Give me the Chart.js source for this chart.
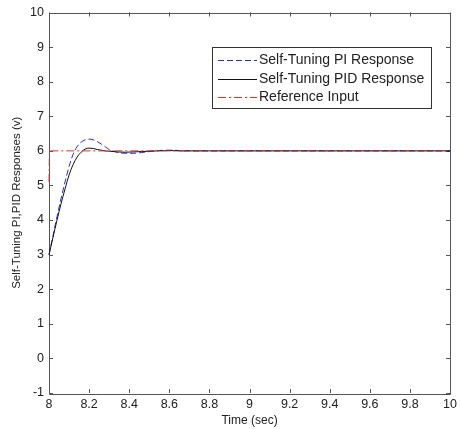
<!DOCTYPE html>
<html>
<head>
<meta charset="utf-8">
<script src="https://cdn.jsdelivr.net/npm/chart.js@4/dist/chart.umd.min.js"></script>
<style>
  html, body { margin: 0; padding: 0; background: #fff; }
  canvas { display: block; }
</style>
</head>
<body>
<canvas id="responseChart" width="461" height="429"></canvas>
<script>
// time samples (sec)
const timeSec = [8, 8.02, 8.04, 8.06, 8.08, 8.10, 8.12, 8.14, 8.16, 8.18, 8.20, 8.22, 8.24, 8.26, 8.28, 8.30,
                 8.34, 8.38, 8.42, 8.46, 8.50, 8.55, 8.60, 8.65, 8.70, 8.80, 9.0, 10];
const piResponse = [3.0, 3.55, 4.1, 4.62, 5.1, 5.55, 5.9, 6.12, 6.25, 6.32, 6.34, 6.32, 6.27, 6.2, 6.12, 6.04,
                    5.96, 5.93, 5.93, 5.95, 5.98, 6.01, 6.02, 6.01, 6.0, 6.0, 6.0, 6.0];
const pidResponse = [3.0, 3.5, 4.0, 4.47, 4.9, 5.3, 5.6, 5.82, 5.96, 6.05, 6.08, 6.07, 6.04, 6.02, 6.0, 5.99,
                     5.97, 5.96, 5.97, 5.98, 5.99, 6.0, 6.01, 6.0, 6.0, 6.0, 6.0, 6.0];
const refTime = [8, 8.002, 10];
const refInput = [5.1, 6, 6];

const seriesNames = ['Self-Tuning PI Response', 'Self-Tuning PID Response', 'Reference Input'];
const xTicks = [8, 8.2, 8.4, 8.6, 8.8, 9, 9.2, 9.4, 9.6, 9.8, 10];
const yTicks = [-1, 0, 1, 2, 3, 4, 5, 6, 7, 8, 9, 10];

const AXIS_COLOR = '#555';
const TEXT_COLOR = '#222';
const REF_COLOR = '#e03030';

function toPoints(xs, ys) {
    return xs.map((x, i) => ({ x: x, y: ys[i] }));
}

// matlab style frame: full box + inward tick marks on all sides (drawn under the lines)
const framePlugin = {
    id: 'frame',
    beforeDatasetsDraw(chart) {
        const { ctx, chartArea: a, scales } = chart;
        ctx.save();
        ctx.strokeStyle = AXIS_COLOR;
        ctx.lineWidth = 1;
        ctx.beginPath();
        ctx.rect(Math.round(a.left) + 0.5, Math.round(a.top) + 0.5,
                 Math.round(a.right - a.left), Math.round(a.bottom - a.top));
        ctx.stroke();
        const len = 4;
        ctx.beginPath();
        xTicks.forEach(v => {
            const px = Math.round(scales.x.getPixelForValue(v)) + 0.5;
            ctx.moveTo(px, a.bottom); ctx.lineTo(px, a.bottom - len);
            ctx.moveTo(px, a.top); ctx.lineTo(px, a.top + len);
        });
        yTicks.forEach(v => {
            const py = Math.round(scales.y.getPixelForValue(v)) + 0.5;
            ctx.moveTo(a.left, py); ctx.lineTo(a.left + len, py);
            ctx.moveTo(a.right, py); ctx.lineTo(a.right - len, py);
        });
        ctx.stroke();
        ctx.restore();
    }
};

// boxed legend inside the axes, upper right
const boxLegendPlugin = {
    id: 'boxLegend',
    afterDraw(chart) {
        const { ctx } = chart;
        const box = { x: 212.5, y: 47.5, w: 219, h: 61 };
        ctx.save();
        ctx.fillStyle = '#fff';
        ctx.fillRect(box.x, box.y, box.w, box.h);
        ctx.strokeStyle = '#333';
        ctx.lineWidth = 1;
        ctx.strokeRect(box.x, box.y, box.w, box.h);
        ctx.font = '14px "Liberation Sans", Arial, sans-serif';
        ctx.textBaseline = 'middle';
        const rows = [60.5, 79.5, 97.5];
        chart.data.datasets.forEach((ds, i) => {
            ctx.beginPath();
            ctx.strokeStyle = ds.borderColor;
            ctx.setLineDash(ds.borderDash || []);
            ctx.moveTo(218, rows[i]);
            ctx.lineTo(257, rows[i]);
            ctx.stroke();
            ctx.setLineDash([]);
            ctx.fillStyle = TEXT_COLOR;
            ctx.fillText(ds.label, 259, rows[i]);
        });
        ctx.restore();
    }
};

function createChart() {
    const ctx = document.getElementById('responseChart').getContext('2d');
    return new Chart(ctx, {
        type: 'scatter',
        data: {
            datasets: [
                {
                    label: seriesNames[0],
                    data: toPoints(timeSec, piResponse),
                    borderColor: '#2a2ac8',
                    borderDash: [6, 3],
                    order: 2,
                },
                {
                    label: seriesNames[1],
                    data: toPoints(timeSec, pidResponse),
                    borderColor: '#111',
                    order: 1,
                },
                {
                    label: seriesNames[2],
                    data: toPoints(refTime, refInput),
                    borderColor: REF_COLOR,
                    borderDash: [8, 3, 2, 3],
                    cubicInterpolationMode: 'default',
                    tension: 0,
                    order: 0,
                },
            ].map(ds => Object.assign({
                showLine: true,
                borderWidth: 1,
                pointRadius: 0,
                fill: false,
                clip: 3,
                cubicInterpolationMode: 'monotone',
            }, ds)),
        },
        options: {
            responsive: false,
            animation: false,
            layout: { padding: { top: 9, right: 10, left: 0, bottom: 0 } },
            plugins: {
                legend: { display: false },
                tooltip: { enabled: false },
            },
            scales: {
                x: {
                    type: 'linear',
                    min: 8,
                    max: 10,
                    afterFit: s => { s.height = 36; },
                    afterBuildTicks: s => { s.ticks = xTicks.map(v => ({ value: v })); },
                    grid: { drawOnChartArea: false, drawTicks: false },
                    border: { display: false },
                    ticks: {
                        color: TEXT_COLOR,
                        padding: 4,
                        maxRotation: 0,
                        font: { family: '"Liberation Sans", Arial, sans-serif', size: 12.5 },
                        callback: v => String(Number(v.toFixed(1))),
                    },
                    title: {
                        display: true,
                        text: 'Time (sec)',
                        color: TEXT_COLOR,
                        padding: { top: 0, bottom: 1 },
                        font: { family: '"Liberation Sans", Arial, sans-serif', size: 12 },
                    },
                },
                y: {
                    min: -1,
                    max: 10,
                    afterFit: s => { s.width = 49; },
                    afterBuildTicks: s => { s.ticks = yTicks.map(v => ({ value: v })); },
                    grid: { drawOnChartArea: false, drawTicks: false },
                    border: { display: false },
                    ticks: {
                        color: TEXT_COLOR,
                        padding: 5,
                        font: { family: '"Liberation Sans", Arial, sans-serif', size: 12.5 },
                    },
                    title: {
                        display: true,
                        text: 'Self-Tuning PI,PID Responses (v)',
                        color: TEXT_COLOR,
                        padding: { top: 10, bottom: 0 },
                        font: { family: '"Liberation Sans", Arial, sans-serif', size: 11.5 },
                    },
                },
            },
        },
        plugins: [framePlugin, boxLegendPlugin],
    });
}

window.onload = createChart;
</script>
</body>
</html>
